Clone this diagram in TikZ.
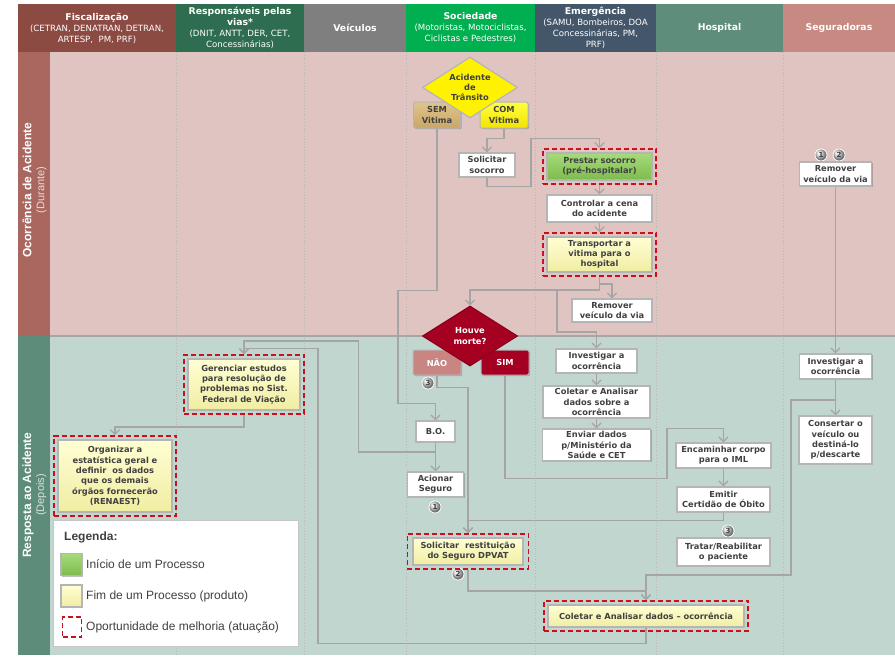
\documentclass[tikz,border=0pt]{standalone}
\usepackage{fontspec}
\setmainfont{DejaVu Sans}
\newfontfamily\legendfont{Liberation Sans}
\usepackage{tikz}
\usetikzlibrary{arrows.meta,shapes.geometric,shadows,fit}
\definecolor{cfiscal}{HTML}{8B4A42}
\definecolor{cvias}{HTML}{2E6D4F}
\definecolor{cveic}{HTML}{7F7F7F}
\definecolor{csoc}{HTML}{00B050}
\definecolor{cemerg}{HTML}{44566A}
\definecolor{chosp}{HTML}{5F8D7B}
\definecolor{cseg}{HTML}{C78A82}
\definecolor{laneTop}{HTML}{E0C4C1}
\definecolor{laneBot}{HTML}{C0D6CF}
\definecolor{labelTop}{HTML}{A9675F}
\definecolor{labelBot}{HTML}{5E8C7B}
\definecolor{linegray}{HTML}{A5A5A5}
\definecolor{boxgray}{HTML}{B5B5B5}
\definecolor{txtgray}{HTML}{404040}
\definecolor{oppred}{HTML}{C8101E}
\definecolor{greenA}{HTML}{A6DB7A}
\definecolor{greenB}{HTML}{7DBB4E}
\definecolor{yellowA}{HTML}{FFFFD4}
\definecolor{yellowB}{HTML}{F0EDA2}
\definecolor{semA}{HTML}{E0C58C}
\definecolor{semB}{HTML}{C9A666}
\definecolor{comA}{HTML}{FFFF40}
\definecolor{comB}{HTML}{F2E400}
\definecolor{naoRose}{HTML}{C98581}
\definecolor{deathRed}{HTML}{A50021}
\tikzstyle{Process}=[shape=rectangle, minimum width=80pt, minimum height=24pt, inner sep=1pt, fill=white, draw=boxgray, line width=1.2pt, text=txtgray, align=center, font=\fontsize{8.3}{10.3}\selectfont\bfseries, drop shadow={shadow xshift=1.4pt, shadow yshift=-1.4pt, fill=black!60, opacity=0.4}]
\tikzstyle{Start}=[style=Process, top color=greenA, bottom color=greenB]
\tikzstyle{Product}=[style=Process, top color=yellowA, bottom color=yellowB]
\tikzstyle{Choice}=[shape=rectangle, rounded corners=2pt, minimum width=48pt, minimum height=25pt, inner sep=1pt, line width=1pt, draw=boxgray, align=center, font=\fontsize{8.3}{10.3}\selectfont\bfseries, drop shadow={shadow xshift=1.2pt, shadow yshift=-1.2pt, fill=black!60, opacity=0.4}]
\tikzstyle{Decision}=[shape=diamond, aspect=1.55, minimum width=95pt, minimum height=61pt, inner sep=0pt, line width=1.2pt, align=center, font=\fontsize{8.3}{10.3}\selectfont\bfseries]
\tikzstyle{Opportunity}=[shape=rectangle, inner sep=3.5pt, draw=oppred, line width=1.6pt, dash pattern=on 5pt off 3pt]
\tikzstyle{Badge}=[shape=circle, minimum size=12pt, inner sep=0pt, draw=white, line width=0.8pt, shading=ball, ball color=gray!35, text=txtgray, font=\fontsize{7}{7}\selectfont\bfseries]
\tikzstyle{Header}=[shape=rectangle, minimum height=48pt, inner sep=0pt, text=white, align=center, font=\fontsize{8.6}{11}\selectfont]
\tikzstyle{LaneTitle}=[rotate=90, align=center, text=white, font=\legendfont\fontsize{11}{13}\selectfont]
\tikzstyle{Separator}=[draw=gray!55, line width=0.8pt, dotted]
\tikzstyle{Legend}=[shape=rectangle, minimum width=245pt, minimum height=126pt, fill=white, draw=gray!45, line width=0.8pt, drop shadow={shadow xshift=1.4pt, shadow yshift=-1.4pt, fill=black!60, opacity=0.4}]
\tikzstyle{LegendText}=[anchor=west, inner sep=0pt, text=txtgray, font=\legendfont\fontsize{12}{14}\selectfont]
\tikzstyle{arrow}=[line width=1.3pt, draw=linegray]
\newcommand{\headtitle}[1]{{\fontsize{9.3}{11}\selectfont\bfseries #1}}
\pgfdeclarelayer{background}
\pgfdeclarelayer{edgelayer}
\pgfdeclarelayer{nodelayer}
\pgfsetlayers{background, edgelayer, nodelayer, main}

\begin{document}
\begin{tikzpicture}[x=1pt, y=-1pt, >={Straight Barb[length=4.5pt, width=9pt]}]
	\useasboundingbox (0,0) rectangle (895,657);
	\begin{pgfonlayer}{background}
		\fill [white] (0,0) rectangle (895,657);
		\fill [laneTop] (50,52) rectangle (895,336);
		\fill [laneBot] (50,336) rectangle (895,655);
		\fill [labelTop] (18,52) rectangle (50,336);
		\fill [labelBot] (18,336) rectangle (50,655);
		\foreach \x in {176,304,406,535,656,783}
			\draw [style=Separator] (\x,52) -- (\x,655);
		\draw [draw=gray!70, line width=1.6pt] (50,336) -- (895,336);
	\end{pgfonlayer}
	\begin{pgfonlayer}{nodelayer}
		% lanes
		\node [style=Header, fill=cfiscal, minimum width=158pt] (hfiscal) at (97,28) {\headtitle{Fiscalização}\\(CETRAN, DENATRAN, DETRAN,\\ARTESP,\ \ PM, PRF)};
		\node [style=Header, fill=cvias, minimum width=128pt] (hvias) at (240,28) {\headtitle{Responsáveis pelas}\\\headtitle{vias*}\\(DNIT, ANTT, DER, CET,\\Concessinárias)};
		\node [style=Header, fill=cveic, minimum width=102pt] (hveic) at (355,28) {\headtitle{Veículos}};
		\node [style=Header, fill=csoc, minimum width=129pt] (hsoc) at (470.5,28) {\headtitle{Sociedade}\\(Motoristas, Motociclistas,\\Ciclistas e Pedestres)};
		\node [style=Header, fill=cemerg, minimum width=121pt] (hemerg) at (595.5,28) {\headtitle{Emergência}\\(SAMU, Bombeiros, DOA\\Concessinárias, PM,\\PRF)};
		\node [style=Header, fill=chosp, minimum width=127pt] (hhosp) at (719.5,28) {\headtitle{Hospital}};
		\node [style=Header, fill=cseg, minimum width=112pt] (hseg) at (839,28) {\headtitle{Seguradoras}};
		\node [style=LaneTitle] (laneduring) at (34.5,190) {{\bfseries\fontsize{12}{13}\selectfont Ocorrência de Acidente}\\{\color{white!75!labelTop}(Durante)}};
		\node [style=LaneTitle] (laneafter) at (34.5,495) {{\bfseries\fontsize{12}{13}\selectfont Resposta ao Acidente}\\{\color{white!75!labelBot}(Depois)}};

		% sociedade
		\node [style=Choice, top color=semA, bottom color=semB, text=txtgray, minimum width=47pt, minimum height=26pt] (semvit) at (437,115) {SEM\\Vitima};
		\node [style=Choice, top color=comA, bottom color=comB, text=txtgray, minimum width=48pt, minimum height=26pt] (comvit) at (504,115) {COM\\Vitima};
		\node [style=Decision, fill=yellow, draw=boxgray, text=txtgray] (acidente) at (470,87.5) {Acidente\\de\\Trânsito};
		\node [style=Process, minimum width=56pt, minimum height=24pt] (solsoc) at (487,165) {Solicitar\\socorro};
		\node [style=Choice, fill=naoRose, text=white] (nao) at (437,362.5) {NÃO};
		\node [style=Choice, fill=deathRed, text=white] (sim) at (505,362.5) {SIM};
		\node [style=Decision, fill=deathRed, draw=deathRed!85!black, text=white, minimum height=60pt] (morte) at (470,336) {Houve\\morte?};
		\node [style=Process, minimum width=39pt, minimum height=21pt] (bo) at (435.5,431.5) {B.O.};
		\node [style=Process, minimum width=56pt, minimum height=25pt] (acionar) at (435.5,484.5) {Acionar\\Seguro};
		\node [style=Badge] (badgenao) at (428,383) {3};
		\node [style=Badge] (badgeacionar) at (435,507) {1};
		\node [style=Badge] (badgerestit) at (458,574) {2};
		\node [style=Product, minimum width=110pt, minimum height=27pt] (restit) at (468,551.5) {Solicitar\ \ restituição\\do Seguro DPVAT};

		% emergencia
		\node [style=Start, minimum width=105pt, minimum height=27pt] (prestar) at (599.5,166.5) {Prestar socorro\\(pré-hospitalar)};
		\node [style=Process, minimum width=105pt, minimum height=27pt] (controlar) at (599.5,208.5) {Controlar a cena\\do acidente};
		\node [style=Product, minimum width=105pt, minimum height=35pt] (transportar) at (599.5,254.5) {Transportar a\\vitima para o\\hospital};
		\node [style=Process, minimum width=80pt, minimum height=23pt] (removerE) at (612,310.5) {Remover\\veículo\ da via};
		\node [style=Process, minimum width=81pt, minimum height=24pt] (investE) at (596.5,361) {Investigar a\\ocorrência};
		\node [style=Process, minimum width=107pt, minimum height=32pt] (coletarE) at (596.5,402) {Coletar e Analisar\\dados sobre a\\ocorrência};
		\node [style=Process, minimum width=108pt, minimum height=32pt] (enviar) at (596.5,445) {Enviar dados\\p/Ministério\ da\\Saúde e CET};
		\node [style=Product, minimum width=196pt, minimum height=22pt] (coletarOc) at (646,616) {Coletar e Analisar dados -- ocorrência};

		% hospital
		\node [style=Process, minimum width=95pt, minimum height=25pt] (encaminhar) at (723.5,455.5) {Encaminhar corpo\\para o IML};
		\node [style=Process, minimum width=93pt, minimum height=25pt] (emitir) at (723.5,499.5) {Emitir\\Certidão de Óbito};
		\node [style=Badge] (badgetratar) at (728,531) {3};
		\node [style=Process, minimum width=93pt, minimum height=28pt] (tratar) at (723.5,552) {Tratar/Reabilitar\\o paciente};

		% seguradoras
		\node [style=Badge] (badgerem1) at (821,155) {1};
		\node [style=Badge] (badgerem2) at (839,155) {2};
		\node [style=Process, minimum width=72pt, minimum height=24pt] (removerS) at (835.5,174) {Remover\\veículo da via};
		\node [style=Process, minimum width=72pt, minimum height=25pt] (investS) at (835.5,366.5) {Investigar a\\ocorrência};
		\node [style=Process, minimum width=73pt, minimum height=48pt] (consertar) at (835.5,440) {Consertar o\\veículo\ ou\\destiná-lo\\p/descarte};

		% responsaveis e fiscalizacao
		\node [style=Product, minimum width=112pt, minimum height=51pt] (gerenciar) at (244,384.5) {Gerenciar estudos\\para resolução de\\problemas no Sist.\\Federal de Viação};
		\node [style=Product, minimum width=114pt, minimum height=72pt] (organizar) at (115,476) {Organizar a\\estatística geral e\\definir\ \ os dados\\que os demais\\órgãos fornecerão\\(RENAEST)};

		% oportunidades de melhoria
		\node [style=Opportunity, fit=(prestar)] (prestarframe) {};
		\node [style=Opportunity, fit=(transportar)] (transportarframe) {};
		\node [style=Opportunity, fit=(gerenciar)] (gerenciarframe) {};
		\node [style=Opportunity, fit=(organizar)] (organizarframe) {};
		\node [style=Opportunity, fit=(restit), inner xsep=5pt] (restitframe) {};
		\node [style=Opportunity, fit=(coletarOc)] (coletarOcframe) {};

		% legenda
		\node [style=Legend] (legend) at (175.5,583) {};
		\node [anchor=west, inner sep=0pt, text=txtgray, font=\legendfont\bfseries\fontsize{12}{14}\selectfont] (legtitle) at (64,537) {Legenda:};
		\node [style=Start, minimum width=21pt, minimum height=22pt] (legstart) at (71.5,564.5) {};
		\node [style=LegendText] (legstarttext) at (86,564.5) {Início de um Processo};
		\node [style=Product, minimum width=21pt, minimum height=22pt] (legproduct) at (71.5,596) {};
		\node [style=LegendText] (legproducttext) at (86,596) {Fim de um Processo (produto)};
		\node [style=Opportunity, minimum width=19pt, minimum height=20pt, inner sep=0pt] (legopp) at (72,627) {};
		\node [style=LegendText] (legopptext) at (86,627) {Oportunidade de melhoria (atuação)};
	\end{pgfonlayer}
	\begin{pgfonlayer}{edgelayer}
		\coordinate (splitT) at (557,289);
		\coordinate (splitB) at (435.5,452);
		\coordinate (splitS) at (835.5,400);
		\draw [->, style=arrow] (comvit.south) -- ++(0,10) -| (solsoc.north);
		\draw [->, style=arrow] (solsoc.south) |- ++(44,9) -- ++(0,-48) -| (prestarframe.north);
		\draw [->, style=arrow] (prestarframe.south) -- (controlar.north);
		\draw [->, style=arrow] (controlar.south) -- (transportarframe.north);
		\draw [->, style=arrow] (transportarframe.south) -- ++(0,7) -| (removerE.north);
		\draw [->, style=arrow] (transportarframe.south) -- ++(0,13) -| (morte.north);
		\draw [->, style=arrow] (splitT) -- ++(0,43) -| (investE.north);
		\draw [->, style=arrow] (investE.south) -- (coletarE.north);
		\draw [->, style=arrow] (coletarE.south) -- (enviar.north);
		\draw [->, style=arrow] (semvit.south) -- ++(0,162) -| ++(-39,113) -| (bo.north);
		\draw [->, style=arrow] (bo.south) -- (acionar.north);
		\draw [->, style=arrow] (splitB) -| ++(-77,-111) -| (gerenciarframe.north);
		\draw [->, style=arrow] (gerenciarframe.south) -- ++(0,12) -| (organizarframe.north);
		\draw [->, style=arrow] (nao.south) -- ++(0,12) -| (restitframe.north);
		\draw [->, style=arrow] (sim.south) -- ++(0,103) -| ++(162,-50) -| (encaminhar.north);
		\draw [->, style=arrow] (encaminhar.south) -- (emitir.north);
		\draw [->, style=arrow] (emitir.south) -- ++(0,8) -| (restitframe.north);
		\draw [->, style=arrow] (restitframe.south) -- ++(0,21) -| (coletarOcframe.north);
		\draw [->, style=arrow] (removerS.south) -- (investS.north);
		\draw [->, style=arrow] (investS.south) -- (consertar.north);
		\draw [->, style=arrow] (splitS) -| ++(-44.5,175) -| (coletarOcframe.north);
		\draw [->, style=arrow] (coletarOc.south) -- ++(0,16) -| ++(-328,-295) -| (gerenciarframe.north);
	\end{pgfonlayer}
\end{tikzpicture}
\end{document}
